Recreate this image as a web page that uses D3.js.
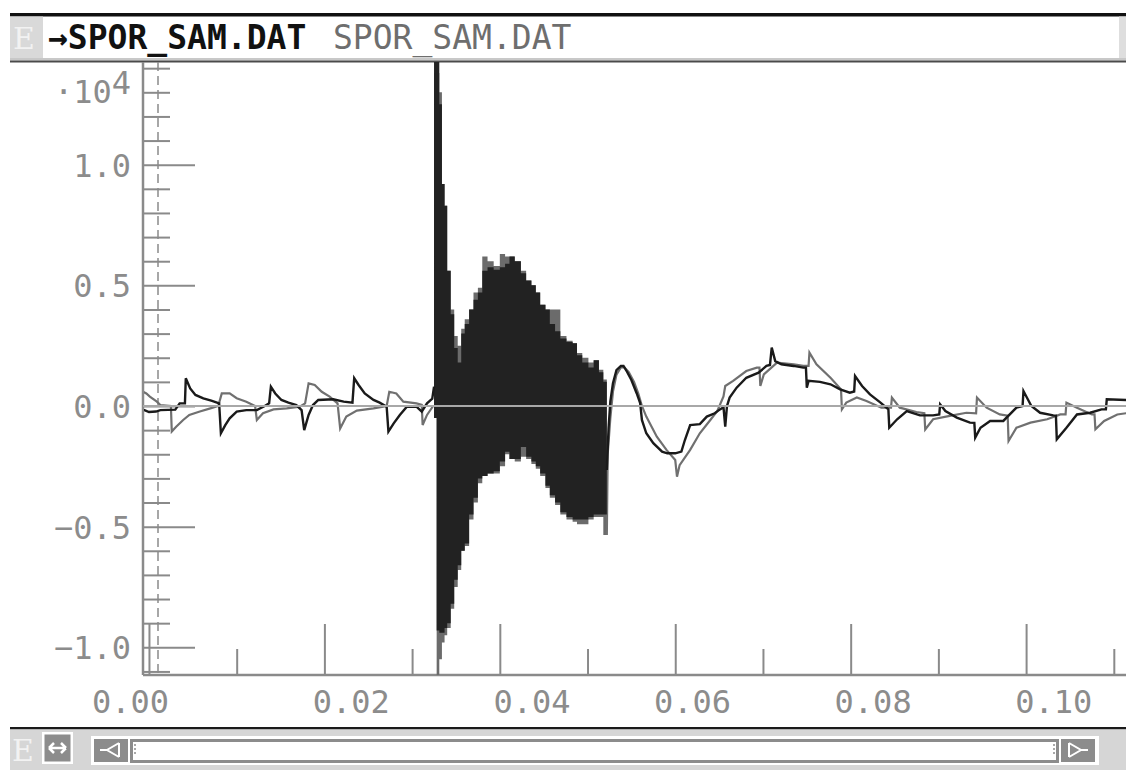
<!DOCTYPE html>
<html>
<head>
<meta charset="utf-8">
<script src="https://cdn.jsdelivr.net/npm/d3@7"></script>
<style>
  body { margin: 0; background: #fff; }
  text { font-family: "DejaVu Sans Mono", monospace; }
</style>
</head>
<body>
<div id="chart"></div>
<script>
// file names shown in the title bar
var fileBlack = "→SPOR_SAM.DAT";
var fileGray = "SPOR_SAM.DAT";

// tick values
var xMajorTicks = [0.00, 0.02, 0.04, 0.06, 0.08, 0.10];
var xMinorTicks = [0.01, 0.03, 0.05, 0.07, 0.09, 0.11];
var yLabelTicks = [-1.0, -0.5, 0.0, 0.5, 1.0];
var yMinorTicks = [-1.1, -0.9, -0.8, -0.7, -0.6, -0.4, -0.3, -0.2, -0.1,
                   0.1, 0.2, 0.3, 0.4, 0.6, 0.7, 0.8, 0.9, 1.1, 1.2, 1.3, 1.4];
var yExponent = "4";

// black trace, quiet part before the burst  [time, value]
var blackPre = [[-0.0007,-0.017],[-0.0005,-0.017],[0.0000,-0.025],[0.0008,-0.023],[0.0013,-0.017],
  [0.0030,-0.015],[0.0035,0.011],[0.0041,0.011],[0.0042,0.115],[0.0047,0.073],[0.0053,0.046],
  [0.0062,0.032],[0.0071,0.022],[0.0080,0.011],[0.0082,-0.113],[0.0087,-0.079],[0.0092,-0.051],
  [0.0100,-0.023],[0.0111,-0.017],[0.0123,-0.017],[0.0132,0.0],[0.0137,0.011],[0.0139,0.08],
  [0.0144,0.052],[0.0151,0.025],[0.0159,0.014],[0.0168,0.004],[0.0174,-0.017],[0.0177,-0.100],
  [0.0182,-0.037],[0.0187,0.004],[0.0193,0.025],[0.0210,0.028],[0.0222,0.018],[0.0232,0.014],
  [0.0234,0.115],[0.0239,0.087],[0.0246,0.052],[0.0256,0.025],[0.0263,0.014],[0.0271,-0.003],
  [0.0273,-0.106],[0.0279,-0.072],[0.0286,-0.037],[0.0294,-0.003],[0.0305,-0.003],[0.0311,-0.023],
  [0.0317,0.011],[0.0323,0.030],[0.0325,0.08]];

// gray trace, quiet part before the burst
var grayPre = [[-0.0007,0.06],[-0.0003,0.052],[0.0001,0.039],[0.0009,0.018],[0.0013,0.004],
  [0.0025,0.0],[0.0026,-0.106],[0.0031,-0.086],[0.0039,-0.058],[0.0046,-0.037],[0.0058,-0.023],
  [0.0070,-0.010],[0.0079,0.0],[0.0083,0.052],[0.0092,0.052],[0.0100,0.032],[0.0111,0.018],
  [0.0121,0.0],[0.0123,-0.058],[0.0130,-0.030],[0.0142,-0.014],[0.0157,-0.010],[0.0172,-0.003],
  [0.0178,0.011],[0.0182,0.094],[0.0189,0.087],[0.0197,0.059],[0.0206,0.039],[0.0215,0.011],
  [0.0218,-0.093],[0.0225,-0.044],[0.0237,-0.019],[0.0256,-0.010],[0.0271,0.0],[0.0274,0.059],
  [0.0282,0.052],[0.0290,0.018],[0.0305,0.011],[0.0311,0.005],[0.0312,-0.079],[0.0317,-0.037],
  [0.0324,0.0],[0.0325,0.0]];

// burst: envelope of the fast oscillation (top / bottom per time step)
var burstT = [0.0325,0.0328,0.0331,0.0334,0.0337,0.0340,0.0344,0.0348,0.0352,0.0356,0.0360,0.0365,
  0.0370,0.0375,0.0380,0.0386,0.0393,0.0400,0.0406,0.0411,0.0417,0.0424,0.0430,0.0436,0.0441,0.0446,
  0.0452,0.0457,0.0463,0.0469,0.0476,0.0483,0.0488,0.0494,0.0501,0.0507,0.0513,0.0518,0.0522];
var blackHi = [1.50,1.50,1.25,0.92,0.83,0.56,0.38,0.24,0.18,0.30,0.34,0.40,0.44,0.47,0.56,0.575,0.565,
  0.575,0.59,0.62,0.60,0.55,0.52,0.50,0.47,0.42,0.40,0.34,0.31,0.28,0.265,0.26,0.21,0.18,0.16,0.19,0.14,0.10,0.10];
var blackLo = [-0.05,-0.93,-0.94,-0.94,-0.92,-0.90,-0.82,-0.72,-0.66,-0.60,-0.57,-0.45,-0.38,-0.30,-0.29,
  -0.28,-0.27,-0.23,-0.19,-0.22,-0.22,-0.17,-0.21,-0.23,-0.25,-0.28,-0.33,-0.37,-0.40,-0.44,-0.46,-0.47,
  -0.47,-0.47,-0.46,-0.45,-0.45,-0.45,-0.45];
var grayHi = [1.38,1.38,1.30,0.92,0.83,0.56,0.40,0.29,0.25,0.32,0.36,0.40,0.47,0.49,0.62,0.60,0.58,0.63,
  0.62,0.62,0.60,0.56,0.52,0.50,0.47,0.42,0.40,0.40,0.40,0.29,0.27,0.26,0.22,0.20,0.18,0.19,0.15,0.11,0.11];
var grayLo = [-0.05,-1.12,-1.05,-0.98,-0.95,-0.92,-0.84,-0.75,-0.68,-0.60,-0.58,-0.47,-0.40,-0.32,-0.29,
  -0.28,-0.28,-0.25,-0.20,-0.22,-0.23,-0.21,-0.22,-0.24,-0.26,-0.29,-0.34,-0.38,-0.41,-0.45,-0.47,-0.48,
  -0.49,-0.49,-0.47,-0.46,-0.46,-0.535,-0.535];

// black trace after the burst
var blackPost = [[0.0522,-0.265],[0.0524,-0.09],[0.0526,0.018],[0.0529,0.094],[0.0533,0.149],
  [0.0538,0.166],[0.0541,0.166],[0.0545,0.142],[0.0550,0.108],[0.0556,0.053],[0.0560,0.012],
  [0.0562,-0.058],[0.0567,-0.113],[0.0575,-0.154],[0.0585,-0.189],[0.0591,-0.196],[0.0600,-0.196],
  [0.0607,-0.189],[0.0611,-0.141],[0.0617,-0.079],[0.0628,-0.075],[0.0636,-0.044],[0.0645,-0.03],
  [0.0651,-0.014],[0.0655,-0.005],[0.0657,-0.086],[0.0659,0.0],[0.0662,0.035],[0.0670,0.076],
  [0.0681,0.117],[0.0695,0.138],[0.0704,0.166],[0.0708,0.17],[0.0710,0.242],[0.0714,0.186],
  [0.0721,0.173],[0.0735,0.166],[0.0746,0.159],[0.0749,0.159],[0.0750,0.076],[0.0752,0.104],
  [0.0765,0.10],[0.0777,0.09],[0.0788,0.069],[0.0799,0.055],[0.0804,0.06],[0.0805,0.124],
  [0.0813,0.083],[0.0822,0.048],[0.0834,0.014],[0.0843,-0.014],[0.0844,-0.09],[0.0853,-0.055],
  [0.0864,-0.021],[0.0879,-0.039],[0.0894,-0.039],[0.0901,-0.035],[0.0902,0.007],[0.0908,-0.021],
  [0.0921,-0.048],[0.0936,-0.069],[0.0941,-0.07],[0.0942,-0.131],[0.0948,-0.09],[0.0959,-0.062],
  [0.0974,-0.062],[0.0989,-0.007],[0.0996,0.0],[0.0997,0.062],[0.1006,0.0],[0.1016,-0.028],
  [0.1031,-0.039],[0.1034,-0.04],[0.1035,-0.138],[0.1046,-0.09],[0.1058,-0.035],[0.1073,-0.028],
  [0.1086,-0.014],[0.1091,-0.014],[0.1092,0.028],[0.1114,0.025]];

// gray trace after the burst
var grayPost = [[0.0522,-0.535],[0.0523,-0.2],[0.0526,-0.05],[0.0529,0.06],[0.0533,0.13],
  [0.0538,0.16],[0.0542,0.16],[0.0547,0.14],[0.0553,0.10],[0.0558,0.05],[0.0562,0.0],
  [0.0567,-0.044],[0.0579,-0.127],[0.0590,-0.182],[0.0600,-0.224],[0.0602,-0.293],[0.0605,-0.245],
  [0.0617,-0.182],[0.0628,-0.113],[0.0640,-0.058],[0.0648,-0.02],[0.0655,0.04],[0.0657,0.083],
  [0.0666,0.104],[0.0681,0.145],[0.0693,0.159],[0.0696,0.159],[0.0697,0.083],[0.0701,0.131],
  [0.0716,0.18],[0.0735,0.173],[0.0746,0.166],[0.0752,0.166],[0.0753,0.221],[0.0761,0.173],
  [0.0777,0.117],[0.0789,0.069],[0.0790,-0.014],[0.0795,0.014],[0.0807,0.035],[0.0818,0.021],
  [0.0835,-0.007],[0.0846,-0.007],[0.0847,0.035],[0.0856,-0.007],[0.0875,-0.025],[0.0884,-0.03],
  [0.0885,-0.097],[0.0894,-0.055],[0.0913,-0.041],[0.0932,-0.028],[0.0943,-0.03],[0.0944,0.035],
  [0.0955,-0.007],[0.0970,-0.035],[0.0979,-0.04],[0.0980,-0.145],[0.0989,-0.09],[0.1005,-0.069],
  [0.1024,-0.055],[0.1039,-0.035],[0.1045,-0.035],[0.1046,0.014],[0.1058,-0.007],[0.1075,-0.035],
  [0.1078,-0.035],[0.1079,-0.097],[0.1089,-0.062],[0.1104,-0.035],[0.1114,-0.03]];

var W = 1126, H = 770;
var plot = {left: 143, right: 1126, top: 62, bottom: 675};
var axisGray = "#8a8a8a", labelGray = "#8c8c8c";

var x = d3.scaleLinear().domain([-0.00068, 0.11139]).range([plot.left, plot.right]);
var y = d3.scaleLinear().domain([-1.1148, 1.4256]).range([plot.bottom, plot.top]);

var svg = d3.select("#chart").append("svg")
    .attr("width", W)
    .attr("height", H);

svg.append("rect").attr("width", W).attr("height", H).attr("fill", "#fff");

// ---- title bar
svg.append("rect").attr("x", 10).attr("y", 13).attr("width", W - 10).attr("height", 3.5).attr("fill", "#111");
svg.append("rect").attr("x", 10).attr("y", 16.5).attr("width", 33).attr("height", 42).attr("fill", "#d9d9d9");
svg.append("text").attr("x", 13).attr("y", 49).attr("font-size", 30)
    .style("font-family", "DejaVu Serif").attr("fill", "#f2f2f2").text("E");
svg.append("rect").attr("x", 1119).attr("y", 16.5).attr("width", 7).attr("height", 42).attr("fill", "#dedede");
svg.append("rect").attr("x", 10).attr("y", 58).attr("width", W - 10).attr("height", 2.5).attr("fill", "#c8c8c8");
svg.append("rect").attr("x", 10).attr("y", 60.5).attr("width", W - 10).attr("height", 2).attr("fill", "#4a4a4a");

svg.append("text").attr("x", 48).attr("y", 49).attr("font-size", 33).attr("font-weight", "bold")
    .attr("fill", "#111").text(fileBlack);
svg.append("text").attr("x", 333).attr("y", 49).attr("font-size", 33)
    .attr("fill", "#6e6e6e").text(fileGray);

// ---- axes and grid
var g = svg.append("g");

g.append("line")
    .attr("x1", 158).attr("x2", 158).attr("y1", plot.top).attr("y2", plot.bottom)
    .attr("stroke", axisGray).attr("stroke-width", 1.5).attr("stroke-dasharray", "9,5");

// y ticks point into the plot
g.append("g").attr("transform", "translate(" + plot.left + ",0)")
    .call(d3.axisRight(y).tickValues(yMinorTicks).tickSize(27).tickFormat(""))
    .call(styleAxis);
g.append("g").attr("transform", "translate(" + plot.left + ",0)")
    .call(d3.axisRight(y).tickValues(yLabelTicks).tickSize(52).tickFormat(""))
    .call(styleAxis);
g.append("g").attr("transform", "translate(" + plot.left + ",0)")
    .call(d3.axisLeft(y).tickValues(yLabelTicks).tickSize(0).tickPadding(12)
      .tickFormat(function(d) { return d3.format(".1f")(d).replace("-", "\u2212"); }))
    .call(styleAxis)
    .selectAll("text")
    .attr("dy", "0.36em");

// x ticks point up into the plot
g.append("g").attr("transform", "translate(0," + plot.bottom + ")")
    .call(d3.axisTop(x).tickValues(xMinorTicks).tickSize(26).tickFormat(""))
    .call(styleAxis);
g.append("g").attr("transform", "translate(0," + plot.bottom + ")")
    .call(d3.axisTop(x).tickValues(xMajorTicks).tickSize(51).tickFormat(""))
    .call(styleAxis);

// x labels sit on the text grid of the old screen
var cell = 20.07, gridX0 = 92;
g.selectAll(".xlab").data(xMajorTicks).enter().append("text")
    .attr("class", "xlab")
    .attr("x", function(d) {
      if (d === 0) return gridX0;
      return gridX0 + Math.round((x(d) - 14 - gridX0) / cell) * cell;
    })
    .attr("y", 713)
    .attr("font-size", 32)
    .attr("fill", labelGray)
    .text(function(d) { return d3.format(".2f")(d); });

// exponent label
var expo = g.append("text").attr("x", 131).attr("y", 103).attr("text-anchor", "end")
    .attr("font-size", 32).attr("fill", labelGray);
expo.append("tspan").text("\u00b710");
expo.append("tspan").attr("dy", -9).text(yExponent);

// axis lines
g.append("line").attr("x1", plot.left).attr("x2", plot.left).attr("y1", plot.top).attr("y2", plot.bottom)
    .attr("stroke", axisGray).attr("stroke-width", 2.5);
g.append("line").attr("x1", plot.left).attr("x2", plot.right).attr("y1", plot.bottom).attr("y2", plot.bottom)
    .attr("stroke", axisGray).attr("stroke-width", 2.5);

function styleAxis(sel) {
  sel.select(".domain").remove();
  sel.selectAll(".tick line").attr("stroke", axisGray).attr("stroke-width", 2);
  sel.selectAll(".tick text").attr("fill", labelGray).attr("font-size", 32)
    .style("font-family", "DejaVu Sans Mono");
}

// ---- traces
svg.append("clipPath").attr("id", "clip").append("rect")
    .attr("x", plot.left + 1).attr("y", plot.top).attr("width", plot.right - plot.left).attr("height", plot.bottom - plot.top);

var traces = svg.append("g").attr("clip-path", "url(#clip)");

var line = d3.line()
    .x(function(d) { return x(d[0]); })
    .y(function(d) { return y(d[1]); });

function burstArea(hi, lo) {
  return d3.area()
    .curve(d3.curveStepAfter)
    .x(function(d, i) { return x(burstT[i]); })
    .y0(function(d, i) { return y(lo[i]); })
    .y1(function(d, i) { return y(hi[i]); })(burstT);
}

// gray first, black drawn over it
traces.append("path").attr("d", burstArea(grayHi, grayLo)).attr("fill", "#6b6b6b");
traces.append("path").datum(grayPre).attr("d", line)
    .attr("fill", "none").attr("stroke", "#707070").attr("stroke-width", 2.2);
traces.append("path").datum(grayPost).attr("d", line)
    .attr("fill", "none").attr("stroke", "#707070").attr("stroke-width", 2.2);

traces.append("path").attr("d", burstArea(blackHi, blackLo)).attr("fill", "#222");
traces.append("path").datum(blackPre).attr("d", line)
    .attr("fill", "none").attr("stroke", "#1a1a1a").attr("stroke-width", 2.4);
traces.append("path").datum(blackPost).attr("d", line)
    .attr("fill", "none").attr("stroke", "#1a1a1a").attr("stroke-width", 2.4);

// zero line on top
svg.append("line")
    .attr("x1", plot.left).attr("x2", plot.right).attr("y1", y(0)).attr("y2", y(0))
    .attr("stroke", "#a8a8a8").attr("stroke-width", 2);

// ---- bottom scroll bar
svg.append("rect").attr("x", 10).attr("y", 727).attr("width", W - 10).attr("height", 2.5).attr("fill", "#1a1a1a");
svg.append("rect").attr("x", 10).attr("y", 729.5).attr("width", W - 10).attr("height", H - 729.5).attr("fill", "#d6d6d6");
svg.append("text").attr("x", 12).attr("y", 761).attr("font-size", 30)
    .style("font-family", "DejaVu Serif").attr("fill", "#f2f2f2").text("E");

svg.append("rect").attr("x", 42).attr("y", 732).attr("width", 31).attr("height", 32).attr("fill", "#fff");
svg.append("rect").attr("x", 44.5).attr("y", 734.5).attr("width", 26).attr("height", 27).attr("fill", "#8c8c8c");
svg.append("path").attr("d", "M49,748 H66 M49,748 l5,-5 M49,748 l5,5 M66,748 l-5,-5 M66,748 l-5,5")
    .attr("stroke", "#fff").attr("stroke-width", 2.5).attr("fill", "none");

svg.append("rect").attr("x", 91).attr("y", 736).attr("width", 1008).attr("height", 29).attr("fill", "#fff");
svg.append("rect").attr("x", 94).attr("y", 739).attr("width", 34).attr("height", 23).attr("fill", "#8c8c8c");
svg.append("rect").attr("x", 1061).attr("y", 739).attr("width", 34).attr("height", 23).attr("fill", "#8c8c8c");
svg.append("rect").attr("x", 131.5).attr("y", 740.5).attr("width", 926).attr("height", 21)
    .attr("fill", "#fff").attr("stroke", "#8c8c8c").attr("stroke-width", 3);
svg.append("path").attr("d", "M119,743 V757 M119,743 L107,750 L119,757 M107,750 H100")
    .attr("stroke", "#fff").attr("stroke-width", 2).attr("fill", "none");
svg.append("path").attr("d", "M1069,743 V757 M1069,743 L1081,750 L1069,757 M1081,750 H1088")
    .attr("stroke", "#fff").attr("stroke-width", 2).attr("fill", "none");
svg.append("path").attr("d", "M135,744 V746 M135,748 V750 M135,752 V754 M1054,744 V746 M1054,748 V750 M1054,752 V754")
    .attr("stroke", "#8c8c8c").attr("stroke-width", 1.5);
</script>
</body>
</html>
